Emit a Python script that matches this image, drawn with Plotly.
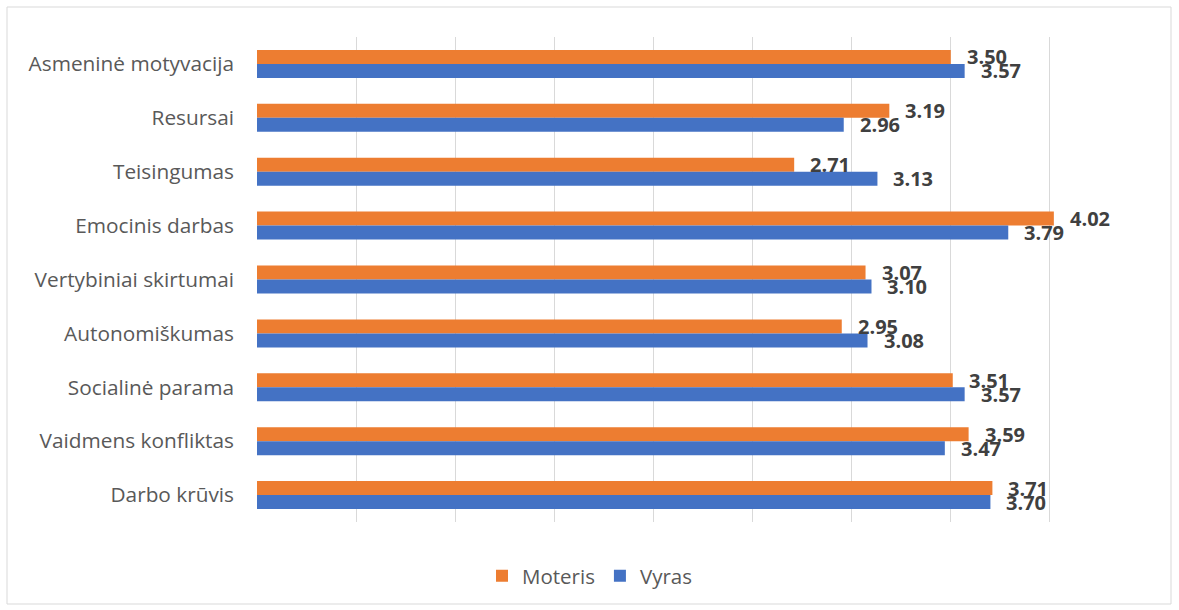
import plotly.graph_objects as go

categories = [
    "Asmeninė motyvacija",
    "Resursai",
    "Teisingumas",
    "Emocinis darbas",
    "Vertybiniai skirtumai",
    "Autonomiškumas",
    "Socialinė parama",
    "Vaidmens konfliktas",
    "Darbo krūvis",
]
moteris = [3.50, 3.19, 2.71, 4.02, 3.07, 2.95, 3.51, 3.59, 3.71]
vyras = [3.57, 2.96, 3.13, 3.79, 3.10, 3.08, 3.57, 3.47, 3.70]

ORANGE = "#ED7D31"
BLUE = "#4472C4"
W, H = 1179, 610
L, R, T, B = 257, 30, 37, 88

fig = go.Figure()
fig.add_trace(go.Bar(y=categories, x=moteris, orientation="h", name="Moteris",
                     marker=dict(color=ORANGE, line=dict(width=0)), hoverinfo="x+y"))
fig.add_trace(go.Bar(y=categories, x=vyras, orientation="h", name="Vyras",
                     marker=dict(color=BLUE, line=dict(width=0)), hoverinfo="x+y"))

# value labels just beyond each bar end
annotations = []
for series, shift in ((moteris, 7), (vyras, -7)):
    for cat, val in zip(categories, series):
        annotations.append(dict(
            x=val, y=cat, xref="x", yref="y", text=f"{val:.2f}",
            showarrow=False, xanchor="left", yanchor="middle",
            xshift=14, yshift=shift,
            font=dict(family="Open Sans", size=20, color="#404040", weight="bold"),
        ))

# thin outer frame around the chart area
pw, ph = W - L - R, H - T - B
fx0, fx1 = 7, 1171
fy0, fy1 = 7, 604
shapes = [dict(
    type="rect", xref="paper", yref="paper",
    x0=(fx0 - L) / pw, x1=(fx1 - L) / pw,
    y0=(H - B - fy1) / ph, y1=(H - B - fy0) / ph,
    line=dict(color="#D9D9D9", width=1), fillcolor="rgba(0,0,0,0)", layer="below",
)]

fig.update_layout(
    width=W, height=H,
    margin=dict(l=L, r=R, t=T, b=B),
    paper_bgcolor="white", plot_bgcolor="white",
    barmode="group", bargap=0.48, bargroupgap=0,
    font=dict(family="Open Sans", size=21, color="#595959"),
    xaxis=dict(range=[0, 4.5], dtick=0.5, tick0=0, showgrid=True, gridcolor="#D9D9D9",
               gridwidth=1, showticklabels=False, zeroline=False, showline=False,
               ticks="", fixedrange=True),
    yaxis=dict(autorange="reversed", showgrid=False, showline=False, ticks="",
               ticklabelstandoff=22, tickfont=dict(size=20.8, color="#595959"),
               fixedrange=True),
    legend=dict(orientation="h", xref="container", yref="container",
                x=0.5, y=0.056, xanchor="center", yanchor="middle",
                font=dict(size=20.5, color="#595959"), itemwidth=30,
                traceorder="normal"),
    annotations=annotations,
    shapes=shapes,
)

fig.write_html("out.html")
